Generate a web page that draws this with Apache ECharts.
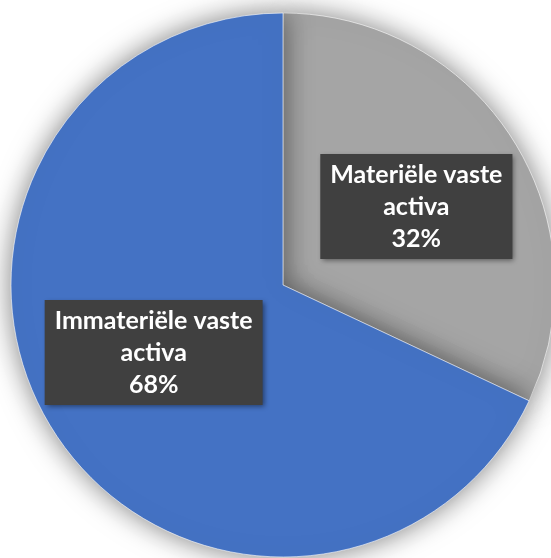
<!DOCTYPE html>
<html>
<head>
<meta charset="utf-8">
<script src="https://cdn.jsdelivr.net/npm/echarts@6/dist/echarts.min.js"></script>
<style>
html,body{margin:0;padding:0;background:#fff;}
#chart{width:551px;height:558px;}
</style>
</head>
<body>
<div id="chart"></div>
<script>
const categories = ['Materiële vaste activa', 'Immateriële vaste activa'];
const labelLines = ['Materiële vaste\nactiva', 'Immateriële vaste\nactiva'];
const values = [32, 68];
const colors = ['#A5A5A5', '#4472C4'];
const labelOffsets = [[16, -4], [-12, -7]];

const chart = echarts.init(document.getElementById('chart'), null, {renderer: 'canvas'});
chart.setOption({
  backgroundColor: '#ffffff',
  animation: false,
  series: [{
    type: 'pie',
    center: [283, 285],
    radius: 272,
    startAngle: 90,
    clockwise: true,
    data: categories.map((c, i) => ({
      name: c,
      value: values[i],
      itemStyle: {color: colors[i]},
      label: {formatter: labelLines[i] + '\n{d}%'}
    })),
    itemStyle: {
      borderColor: '#ffffff',
      borderWidth: 0.6,
      shadowBlur: 28,
      shadowColor: 'rgba(0,0,0,0.5)'
    },
    label: {
      show: true,
      position: 'inside',
      color: '#ffffff',
      fontFamily: 'Lato',
      fontWeight: 'bold',
      fontSize: 25,
      lineHeight: 32,
      align: 'center',
      backgroundColor: '#404040',
      padding: [6, 10, 3, 10],
      shadowBlur: 5,
      shadowOffsetX: 2,
      shadowOffsetY: 2,
      shadowColor: 'rgba(0,0,0,0.45)'
    },
    labelLayout: function (p) {
      const o = labelOffsets[p.dataIndex];
      return {dx: o[0], dy: o[1]};
    },
    labelLine: {show: false},
    emphasis: {disabled: true}
  }]
});
</script>
</body>
</html>
